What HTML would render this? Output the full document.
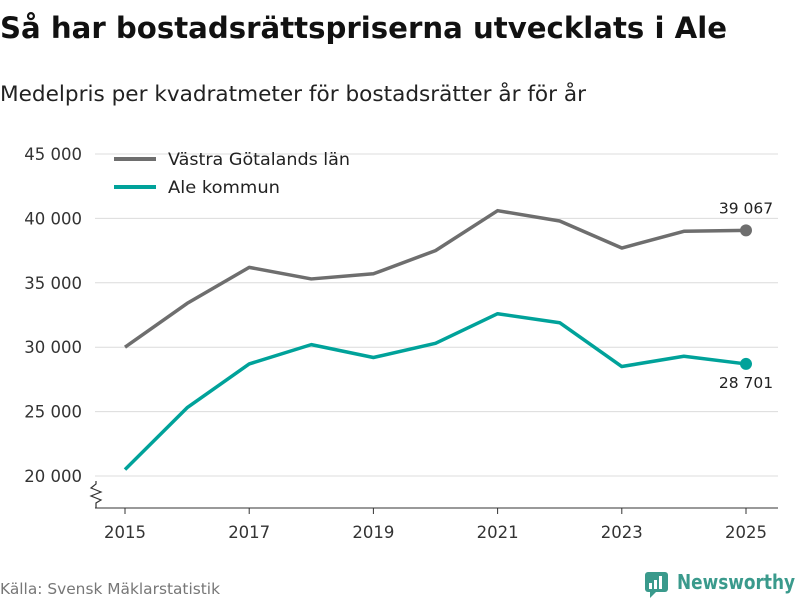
<!DOCTYPE html>
<html><head><meta charset="utf-8"><style>
body{margin:0;background:#fff;font-family:"Liberation Sans","DejaVu Sans",sans-serif;}
svg text{font-family:"DejaVu Sans","Liberation Sans",sans-serif;}
</style></head><body>
<svg width="800" height="600" xmlns="http://www.w3.org/2000/svg">
<text x="0" y="38" font-size="29" font-weight="bold" fill="#111" textLength="727" lengthAdjust="spacingAndGlyphs">Så har bostadsrättspriserna utvecklats i Ale</text>
<text x="0" y="101" font-size="21" fill="#222" textLength="586" lengthAdjust="spacingAndGlyphs">Medelpris per kvadratmeter för bostadsrätter år för år</text>
<g id="grid"></g><g id="axes"></g><g id="lines"></g>
<g>
<line x1="114" y1="159" x2="156" y2="159" stroke="#6e6e6e" stroke-width="4"/>
<text x="168" y="165" font-size="17" fill="#222" textLength="182" lengthAdjust="spacingAndGlyphs">Västra Götalands län</text>
<line x1="114" y1="187" x2="156" y2="187" stroke="#00a29a" stroke-width="4"/>
<text x="168" y="193" font-size="17" fill="#222" textLength="112" lengthAdjust="spacingAndGlyphs">Ale kommun</text>
</g>
<text x="0" y="594" font-size="15" fill="#777" textLength="220" lengthAdjust="spacingAndGlyphs">Källa: Svensk Mäklarstatistik</text>
<g>
<rect x="645" y="572" width="23" height="20" rx="3" fill="#3a9a8c"/>
<polygon points="650,592 656,592 650,598" fill="#3a9a8c"/>
<rect x="649" y="583" width="3" height="6" fill="#fff"/><rect x="654" y="580" width="3" height="9" fill="#fff"/><rect x="659" y="576" width="3" height="13" fill="#fff"/>
<text x="677" y="589" font-size="20" font-weight="bold" fill="#3a9a8c" textLength="118" lengthAdjust="spacingAndGlyphs">Newsworthy</text>
</g>
</svg>
<script>
const years=[2015,2016,2017,2018,2019,2020,2021,2022,2023,2024,2025];
const vgValues=[30000,33400,36200,35300,35700,37500,40600,39800,37700,39000,39067];
const aleValues=[20500,25300,28700,30200,29200,30300,32600,31900,28500,29300,28701];
const yTicks=[20000,25000,30000,35000,40000,45000];
const xTicks=[2015,2017,2019,2021,2023,2025];
const NS='http://www.w3.org/2000/svg';
const x=v=>125+(v-2015)*62.1;
const y=v=>476-(v-20000)*(322/25000);
function mk(tag,attrs,parent,txt){const e=document.createElementNS(NS,tag);for(const k in attrs)e.setAttribute(k,attrs[k]);if(txt!==undefined)e.textContent=txt;document.getElementById(parent).appendChild(e);return e;}
const fmt=v=>String(v).replace(/\B(?=(\d{3})+(?!\d))/g,' ');
yTicks.forEach(t=>{
 const l=mk('line',{x1:95,x2:778,y1:y(t),y2:y(t),stroke:'#dcdcdc','stroke-width':1},'grid');
 
 
 const tx=mk('text',{x:82,y:y(t)+6,'text-anchor':'end','font-size':16.5,fill:'#333'},'axes',fmt(t));
 
 
});
const ax=mk('line',{x1:95,x2:778,y1:508,y2:508,stroke:'#333','stroke-width':1},'axes');


const br=mk('path',{d:'M96,481 L96,484 L91,488 L101,492 L91,496 L101,500 L96,503 L96,508',fill:'none',stroke:'#333','stroke-width':1.2},'axes');


xTicks.forEach(t=>{
 const tk=mk('line',{x1:x(t),x2:x(t),y1:508,y2:514,stroke:'#333'},'axes');
 
 
 const tx=mk('text',{x:x(t),y:538,'text-anchor':'middle','font-size':16.5,fill:'#333'},'axes',t);
 
 
});
function series(vals,color,name,labelDy){
 const p=mk('polyline',{points:vals.map((v,i)=>x(years[i])+','+y(v)).join(' '),fill:'none',stroke:color,'stroke-width':3.5,'stroke-linejoin':'round'},'lines');
 
 
 const last=vals.length-1;
 const c=mk('circle',{cx:x(years[last]),cy:y(vals[last]),r:6,fill:color},'lines');
 
 
 const t=mk('text',{x:x(years[last]),y:y(vals[last])+labelDy,'text-anchor':'middle','font-size':15.5,fill:'#222'},'lines',fmt(vals[last]));
 
 
}
series(vgValues,'#6e6e6e','vg',-17);
series(aleValues,'#00a29a','ale',24);
</script>
</body></html>
